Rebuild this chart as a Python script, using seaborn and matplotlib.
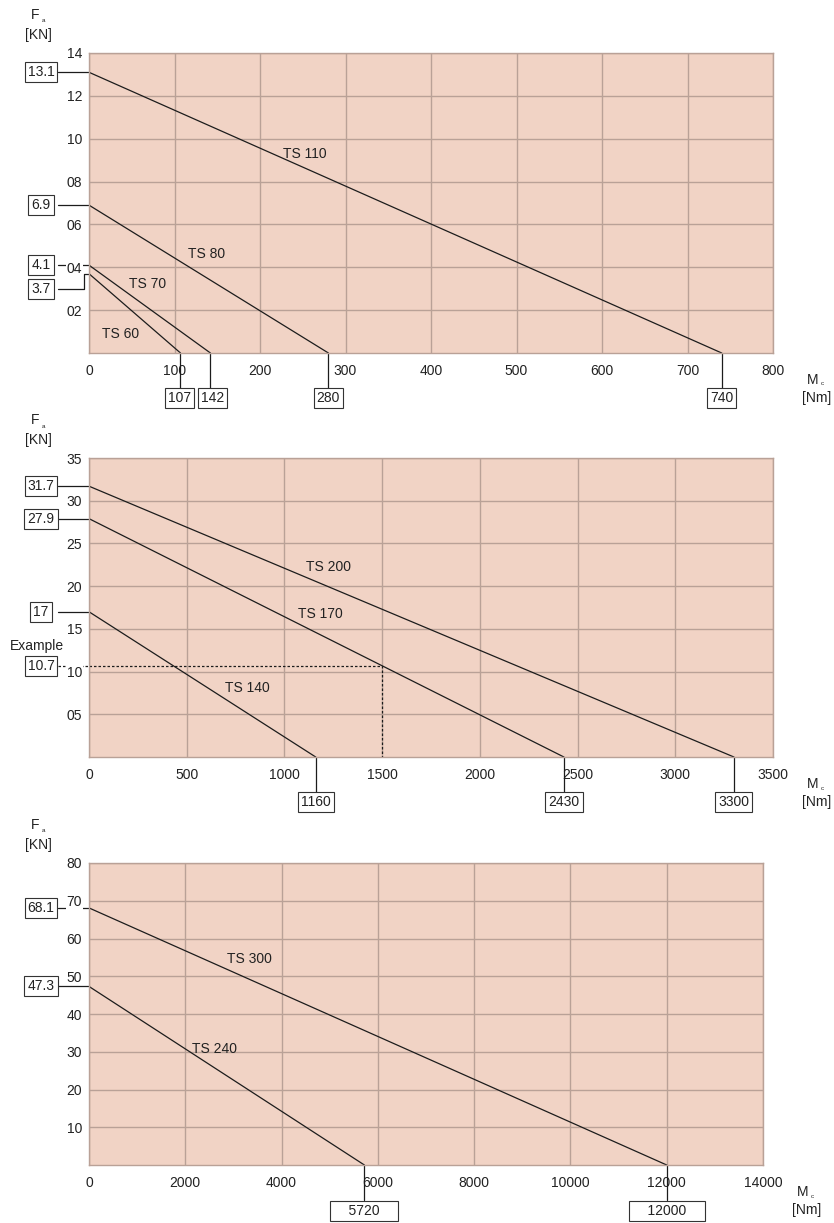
import numpy as np
import pandas as pd
import matplotlib
matplotlib.use("Agg")
import matplotlib.pyplot as plt
import matplotlib.transforms as mtransforms
from matplotlib.lines import Line2D
import seaborn as sns

# Load limits per model: axial force at zero torque [kN] and torque at zero force [Nm]
small_models = ["TS 60", "TS 70", "TS 80", "TS 110"]
small_force = [3.7, 4.1, 6.9, 13.1]
small_torque = [107, 142, 280, 740]

mid_models = ["TS 140", "TS 170", "TS 200"]
mid_force = [17, 27.9, 31.7]
mid_torque = [1160, 2430, 3300]

large_models = ["TS 240", "TS 300"]
large_force = [47.3, 68.1]
large_torque = [5720, 12000]

# Worked example
example_force = 10.7
example_model = "TS 170"

# Axis ticks
small_xticks = [0, 100, 200, 300, 400, 500, 600, 700, 800]
small_yticks = [2, 4, 6, 8, 10, 12, 14]
small_ylabels = ["02", "04", "06", "08", "10", "12", "14"]

mid_xticks = [0, 500, 1000, 1500, 2000, 2500, 3000, 3500]
mid_yticks = [5, 10, 15, 20, 25, 30, 35]
mid_ylabels = ["05", "10", "15", "20", "25", "30", "35"]

large_xticks = [0, 2000, 4000, 6000, 8000, 10000, 12000, 14000]
large_yticks = [10, 20, 30, 40, 50, 60, 70, 80]
large_ylabels = ["10", "20", "30", "40", "50", "60", "70", "80"]

# ---------------------------------------------------------------- style
sns.set_style("white")
plt.rcParams["font.family"] = ["Liberation Sans", "DejaVu Sans"]
TEXT = "#222222"
LINE = "#1c1c1c"
FACE = "#F1D3C5"
GRID = "#B9A197"
FS = 10

W, H = 834, 1223
fig = plt.figure(figsize=(W / 100, H / 100), dpi=100)


def px_offset(dx, dy):
    """Offset in output pixels."""
    return mtransforms.ScaledTranslation(dx / 100, dy / 100, fig.dpi_scale_trans)


box_style = dict(boxstyle="square,pad=0.22", fc="white", ec="#333333", lw=0.8)


def draw_panel(rect, models, force, torque, xticks, yticks, ylabels,
               name_pos, box_drop=35, box_gap=45, box_pad="",
               left_box_shift=None, bottom_box_shift=None):
    ax = fig.add_axes(rect)
    xmax, ymax = xticks[-1], yticks[-1]
    w_px, h_px = rect[2] * W, rect[3] * H

    ax.set_facecolor(FACE)
    ax.set_xlim(0, xmax)
    ax.set_ylim(0, ymax)
    ax.set_axisbelow(True)
    ax.grid(True, color=GRID, lw=1.0)
    for s in ax.spines.values():
        s.set_color(GRID)
        s.set_linewidth(1.0)

    ax.set_xticks(xticks)
    ax.set_xticklabels([str(v) for v in xticks])
    ax.set_yticks(yticks)
    ax.set_yticklabels(ylabels)
    ax.tick_params(axis="x", length=0, pad=8, labelsize=FS, labelcolor=TEXT)
    ax.tick_params(axis="y", length=0, pad=5, labelsize=FS, labelcolor=TEXT)
    for lab in ax.get_yticklabels():
        lab.set_bbox(dict(fc="white", ec="none", pad=0.5))

    # straight load lines from (0, F) to (M, 0)
    rows = []
    for m, f, t in zip(models, force, torque):
        rows.append({"Mc": 0, "Fa": f, "model": m})
        rows.append({"Mc": t, "Fa": 0, "model": m})
    df = pd.DataFrame(rows)
    sns.lineplot(data=df, x="Mc", y="Fa", units="model", estimator=None,
                 sort=False, color=LINE, lw=0.9, ax=ax, legend=False)
    ax.set_xlabel("")
    ax.set_ylabel("")

    for m, (nx, ny) in zip(models, name_pos):
        ax.text(nx, ny, m, fontsize=FS, color=TEXT, ha="center", va="center")

    # value boxes on the force axis
    yblend = mtransforms.blended_transform_factory(ax.transAxes, ax.transData)
    box_cx = -48 / w_px
    box_edge = -31 / w_px
    for m, f in zip(models, force):
        shift = 0 if left_box_shift is None else left_box_shift.get(m, 0)
        if shift:
            yb = f + shift * ymax / h_px
            bend = -5 / w_px
            ax.add_line(Line2D([box_edge, bend, bend, 0], [yb, yb, f, f],
                               transform=yblend, color=LINE, lw=0.9,
                               clip_on=False, zorder=0.3))
        else:
            yb = f
            ax.add_line(Line2D([box_edge, 0], [f, f], transform=yblend,
                               color=LINE, lw=0.9, clip_on=False, zorder=0.3))
        ax.text(box_cx, yb, f"{f:g}", transform=yblend, fontsize=FS,
                color=TEXT, ha="center", va="center", bbox=box_style,
                zorder=3)

    # value boxes on the torque axis
    xblend = mtransforms.blended_transform_factory(ax.transData, ax.transAxes)
    for m, t in zip(models, torque):
        dx = 0 if bottom_box_shift is None else bottom_box_shift.get(m, 0)
        ax.add_line(Line2D([t, t], [0, -box_drop / h_px], transform=xblend,
                           color=LINE, lw=0.9, clip_on=False))
        ax.text(t, -box_gap / h_px, f"{box_pad}{t}{box_pad}",
                transform=xblend + px_offset(dx, 0),
                fontsize=FS, color=TEXT, ha="center", va="center",
                bbox=box_style, zorder=3)

    # axis captions
    ax.text(0, 1, "F", transform=ax.transAxes + px_offset(-54, 38),
            fontsize=FS, color=TEXT, ha="center", va="center")
    ax.text(0, 1, "a", transform=ax.transAxes + px_offset(-45, 32),
            fontsize=4.5, color=TEXT, ha="center", va="center")
    ax.text(0, 1, "[KN]", transform=ax.transAxes + px_offset(-51, 18),
            fontsize=FS, color=TEXT, ha="center", va="center")
    ax.text(1, 0, "M", transform=ax.transAxes + px_offset(40, -27),
            fontsize=FS, color=TEXT, ha="center", va="center")
    ax.text(1, 0, "c", transform=ax.transAxes + px_offset(49, -31),
            fontsize=4.5, color=TEXT, ha="center", va="center")
    ax.text(1, 0, "[Nm]", transform=ax.transAxes + px_offset(44, -45),
            fontsize=FS, color=TEXT, ha="center", va="center")
    return ax, yblend, w_px, h_px


def rect_px(left, top, right, bottom):
    return [left / W, 1 - bottom / H, (right - left) / W, (bottom - top) / H]


# TS 60 - TS 110
draw_panel(rect_px(89, 53, 773, 353), small_models, small_force, small_torque,
           small_xticks, small_yticks, small_ylabels,
           name_pos=[(37, 0.9), (68, 3.2), (138, 4.6), (252, 9.3)],
           left_box_shift={"TS 60": -15},
           bottom_box_shift={"TS 60": -1, "TS 70": 2})

# TS 140 - TS 200
ax2, yb2, w2, h2 = draw_panel(rect_px(89, 458, 773, 757), mid_models, mid_force,
                              mid_torque, mid_xticks, mid_yticks, mid_ylabels,
                              name_pos=[(809, 8.1), (1182, 16.7), (1228, 22.2)])

# example: follow 10.7 kN across to the TS 170 line and down to the torque axis
i = mid_models.index(example_model)
ex_torque = mid_torque[i] * (1 - example_force / mid_force[i])
ax2.add_line(Line2D([-31 / w2, 0], [example_force, example_force],
                    transform=yb2, color=LINE, lw=0.9, ls=(0, (2, 1.6)),
                    clip_on=False, zorder=0.3))
ax2.plot([0, ex_torque, ex_torque], [example_force, example_force, 0],
         color=LINE, lw=0.9, ls=(0, (2, 1.6)))
ax2.text(-48 / w2, example_force, f"{example_force:g}", transform=yb2,
         fontsize=FS, color=TEXT, ha="center", va="center", bbox=box_style,
         zorder=3)
ax2.text(-52 / w2, example_force, "Example",
         transform=yb2 + px_offset(0, 20), fontsize=FS, color=TEXT,
         ha="center", va="center")

# TS 240 - TS 300
draw_panel(rect_px(89, 863, 763, 1165), large_models, large_force, large_torque,
           large_xticks, large_yticks, large_ylabels,
           name_pos=[(2617, 30.8), (3324, 54.6)],
           box_drop=35, box_gap=46, box_pad="    ")

fig.savefig("out.png", dpi=100, facecolor="white")
